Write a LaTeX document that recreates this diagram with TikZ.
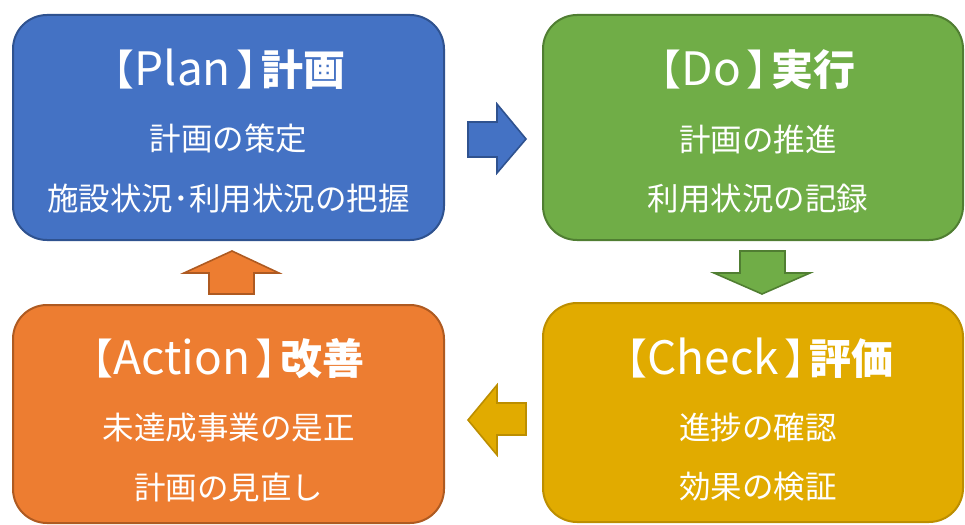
\documentclass[tikz,border=0pt]{standalone}
\usepackage{fontspec}
\setmainfont{Noto Sans CJK JP}
\newfontfamily\cjk{Noto Sans CJK JP}
\definecolor{pblue}{HTML}{4472C4}
\definecolor{pblueb}{HTML}{2F528F}
\definecolor{pgreen}{HTML}{70AD47}
\definecolor{pgreenb}{HTML}{507E32}
\definecolor{pgold}{HTML}{E1AB00}
\definecolor{pgoldb}{HTML}{BC8E00}
\definecolor{porange}{HTML}{ED7D31}
\definecolor{porangeb}{HTML}{AE5A21}
\newcommand{\pdcatitle}[2]{\kern-0.45em【{\fontsize{46}{50}\selectfont #1}\kern0.12em】\kern-0.4em{\bfseries #2}}
\begin{document}
\begin{tikzpicture}[x=1pt,y=-1pt,
  box/.style={draw=#1b, fill=#1, line width=2pt, rounded corners=34pt, rectangle},
  ttl/.style={text=white, font=\cjk\fontsize{42}{46}\selectfont, inner sep=0pt, anchor=base},
  bod/.style={text=white, font=\cjk\fontsize{31.5}{34}\selectfont, inner sep=0pt},
  blk/.style={draw=#1b, fill=#1, line width=1.6pt, line join=miter}]
\useasboundingbox (0,0) rectangle (965,524);
% boxes
\draw[box=pblue] (13,15) rectangle (444,240);
\draw[box=pgreen] (543,15) rectangle (963,240);
\draw[box=porange] (13,305) rectangle (444,523);
\draw[box=pgold] (543,303) rectangle (963,522);
\node (plant) at (228.5,86) [ttl] {\pdcatitle{Plan}{計画}};
\node (plan1) at (228.5,139) [bod] {計画の策定};
\node (plan2) at (228.5,199) [bod] {施設状況･利用状況の把握};
\node (dot) at (757,86) [ttl] {\pdcatitle{Do}{実行}};
\node (do1) at (758,139) [bod] {計画の推進};
\node (do2) at (758,199) [bod] {利用状況の記録};
\node (actt) at (227.5,374) [ttl] {\pdcatitle{Action}{改善}};
\node (act1) at (228.5,428) [bod] {未達成事業の是正};
\node (act2) at (228.5,487) [bod] {計画の見直し};
\node (chkt) at (759,374) [ttl] {\pdcatitle{Check}{評価}};
\node (chk1) at (758,428) [bod] {進捗の確認};
\node (chk2) at (758,487) [bod] {効果の検証};
% block arrows
\draw[blk=pblue] (468,122) -- (497,122) -- (497,104) -- (526,139) -- (497,173) -- (497,157) -- (468,157) -- cycle;
\draw[blk=pgreen] (740,251) -- (785,251) -- (785,273) -- (810,273) -- (762,294) -- (714,273) -- (740,273) -- cycle;
\draw[blk=pgold] (526,403) -- (497,403) -- (497,385) -- (468,420) -- (497,455) -- (497,435) -- (526,435) -- cycle;
\draw[blk=porange] (209,294) -- (254,294) -- (254,273) -- (279,273) -- (232,251) -- (184,273) -- (209,273) -- cycle;
\end{tikzpicture}
\end{document}
